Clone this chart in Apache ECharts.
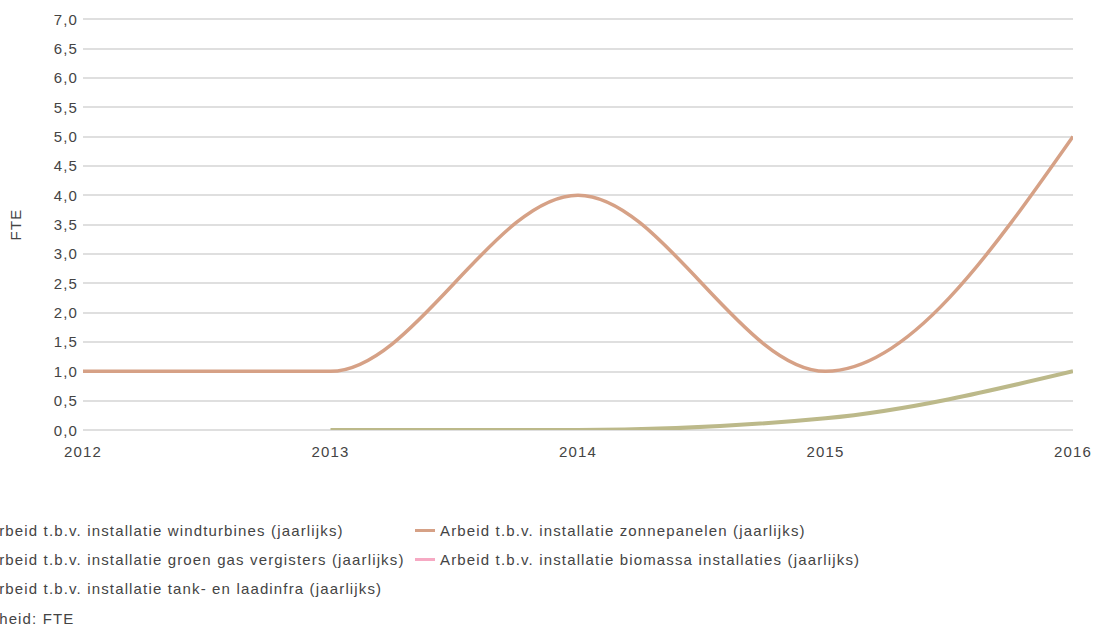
<!DOCTYPE html>
<html><head><meta charset="utf-8">
<script src="https://cdn.jsdelivr.net/npm/echarts@6/dist/echarts.min.js"></script>
<style>
html,body{margin:0;padding:0;background:#fff}
#c{width:1095px;height:625px}
#c text{letter-spacing:1.15px}
</style>
</head><body><div id="c"></div>
<script>
// ---- data ----
const years = ['2012','2013','2014','2015','2016'];
const windturbines = [null, null, null, null, null];
const groenGas = [null, null, null, null, null];
const tankLaadinfra = [null, 0, 0, 0.2, 1.0];
const zonnepanelen = [1.0, 1.0, 4.0, 1.0, 5.0];
const biomassa = [null, null, null, null, null];
const yTicks = {min: 0, max: 7, interval: 0.5};
const seriesNames = {
  wind: 'Arbeid t.b.v. installatie windturbines (jaarlijks)',
  zon: 'Arbeid t.b.v. installatie zonnepanelen (jaarlijks)',
  gas: 'Arbeid t.b.v. installatie groen gas vergisters (jaarlijks)',
  bio: 'Arbeid t.b.v. installatie biomassa installaties (jaarlijks)',
  tank: 'Arbeid t.b.v. installatie tank- en laadinfra (jaarlijks)'
};
const unitLabel = 'Eenheid: FTE';
const yAxisName = 'FTE';

const font = 'Liberation Sans, Arial, sans-serif';
const textColor = '#444';

// monotone cubic (monotoneX) path through pixel points
function monotonePath(p) {
  const n = p.length;
  if (n === 0) return '';
  if (n === 1) return 'M' + p[0][0] + ',' + p[0][1];
  const h = [], s = [];
  for (let i = 0; i < n - 1; i++) {
    h[i] = p[i + 1][0] - p[i][0];
    s[i] = (p[i + 1][1] - p[i][1]) / h[i];
  }
  const sign = x => x < 0 ? -1 : 1;
  const t = new Array(n);
  for (let i = 1; i < n - 1; i++) {
    const pp = (s[i - 1] * h[i] + s[i] * h[i - 1]) / (h[i - 1] + h[i]);
    t[i] = (sign(s[i - 1]) + sign(s[i])) * Math.min(Math.abs(s[i - 1]), Math.abs(s[i]), 0.5 * Math.abs(pp)) || 0;
  }
  if (n === 2) { t[0] = s[0]; t[1] = s[0]; }
  else {
    t[0] = (3 * s[0] - t[1]) / 2;
    t[n - 1] = (3 * s[n - 2] - t[n - 2]) / 2;
  }
  let d = 'M' + p[0][0] + ',' + p[0][1];
  for (let i = 0; i < n - 1; i++) {
    const dx = h[i] / 3;
    d += ' C' + (p[i][0] + dx) + ',' + (p[i][1] + dx * t[i]) + ' ' +
         (p[i + 1][0] - dx) + ',' + (p[i + 1][1] - dx * t[i + 1]) + ' ' +
         p[i + 1][0] + ',' + p[i + 1][1];
  }
  return d;
}

const mk = (name, values, color, width) => {
  const data = [];
  values.forEach((v, i) => { if (v !== null) data.push([i, v]); });
  return {
    name, type: 'custom', data, encode: {x: 0, y: 1},
    itemStyle: {color},
    renderItem: (params, api) => {
      if (params.dataIndex !== 0) return null;
      const pts = data.map(d => api.coord(d));
      const cs = params.coordSys;
      return {
        type: 'path',
        shape: {pathData: monotonePath(pts)},
        style: {stroke: color, lineWidth: width, fill: 'none', lineJoin: 'round'},
        clipPath: {type: 'rect', shape: {x: cs.x, y: cs.y - 10, width: cs.width, height: cs.height + 10}}
      };
    }
  };
};

const legendCommon = {
  orient: 'vertical', itemWidth: 20, itemHeight: 14, itemGap: 14,
  icon: 'path://M0,6 L20,6 L20,9 L0,9 Z',
  textStyle: {fontFamily: font, fontSize: 15, color: textColor}
};

const chart = echarts.init(document.getElementById('c'), null, {renderer: 'svg'});
chart.setOption({
  animation: false,
  textStyle: {fontFamily: font},
  grid: {left: 80, right: 22, top: 19, bottom: 195},
  xAxis: {
    type: 'category', data: years, boundaryGap: false,
    axisLine: {show: false}, axisTick: {show: false},
    axisLabel: {color: textColor, fontSize: 15, margin: 14, fontFamily: font}
  },
  yAxis: {
    type: 'value', min: yTicks.min, max: yTicks.max, interval: yTicks.interval,
    name: yAxisName, nameLocation: 'middle', nameGap: 60, nameRotate: 90,
    nameTextStyle: {color: textColor, fontSize: 15, fontFamily: font},
    axisLine: {show: false}, axisTick: {show: false},
    axisLabel: {color: textColor, fontSize: 15, margin: 5, fontFamily: font,
      formatter: v => v.toFixed(1).replace('.', ',')},
    splitLine: {lineStyle: {color: '#d4d4d4', width: 1.5}}
  },
  legend: [
    Object.assign({}, legendCommon, {left: -42, top: 518,
      data: [seriesNames.wind, seriesNames.gas, seriesNames.tank]}),
    Object.assign({}, legendCommon, {left: 410, top: 518,
      data: [seriesNames.zon, seriesNames.bio]})
  ],
  graphic: [{type: 'text', left: -31, top: 611,
    style: {text: unitLabel, font: '15px ' + font, fill: textColor}}],
  series: [
    mk(seriesNames.wind, windturbines, '#9fb8d6', 2),
    mk(seriesNames.gas, groenGas, '#a8c89a', 2),
    mk(seriesNames.bio, biomassa, '#f6a9c3', 2),
    mk(seriesNames.tank, tankLaadinfra, '#bcb98a', 4),
    mk(seriesNames.zon, zonnepanelen, '#d6a186', 3.5)
  ]
});
</script></body></html>
